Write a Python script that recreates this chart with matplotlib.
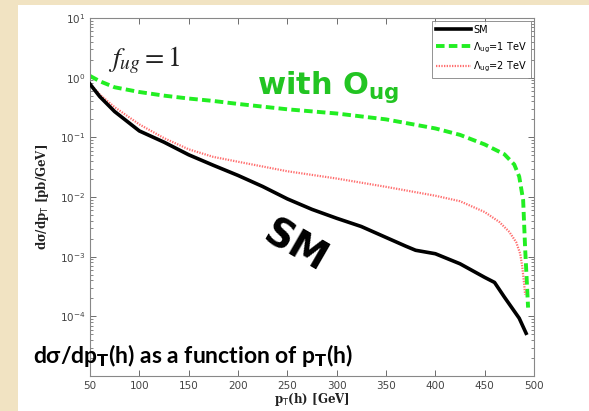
import numpy as np
import matplotlib
matplotlib.use("Agg")
import matplotlib.pyplot as plt
from matplotlib.patches import Rectangle
from matplotlib.ticker import LogLocator, NullFormatter

# ---- data ----
sm_pt = [50, 60, 75, 100, 125, 150, 175, 200, 225, 250, 275, 300, 325, 350,
         370, 380, 400, 425, 450, 460, 470, 485, 492]
sm_val = [0.78, 0.48, 0.27, 0.128, 0.083, 0.051, 0.034, 0.023, 0.015, 0.0093,
          0.0062, 0.0044, 0.0032, 0.0021, 0.0015, 0.00128, 0.00112, 0.00076,
          0.00045, 0.00037, 0.00021, 9.3e-5, 5.2e-5]

g_pt = [50, 60, 75, 100, 125, 150, 175, 200, 250, 300, 350, 400, 425, 450,
        470, 480, 485, 489, 491, 494]
g_val = [1.07, 0.87, 0.69, 0.575, 0.50, 0.447, 0.407, 0.363, 0.295, 0.251,
         0.20, 0.141, 0.11, 0.076, 0.052, 0.035, 0.022, 0.0089, 0.0014,
         0.00014]

r_pt = [50, 60, 75, 100, 125, 150, 175, 200, 250, 300, 350, 400, 425, 450,
        465, 475, 482, 486, 488, 490, 491]
r_val = [0.79, 0.52, 0.32, 0.165, 0.097, 0.063, 0.047, 0.039, 0.027, 0.0204,
         0.0148, 0.0105, 0.0085, 0.0056, 0.0038, 0.0026, 0.00174, 0.00112,
         0.0007, 0.00035, 0.00023]

x_ticks = [50, 100, 150, 200, 250, 300, 350, 400, 450, 500]
y_ticks = [1e-4, 1e-3, 1e-2, 1e-1, 1e0, 1e1]
y_tick_labels = [r"$10^{-4}$", r"$10^{-3}$", r"$10^{-2}$", r"$10^{-1}$",
                 r"$10^{0}$", r"$10^{1}$"]
legend_labels = ["SM", r"$\Lambda_{\rm ug}$=1 TeV", r"$\Lambda_{\rm ug}$=2 TeV"]

W, H = 589, 411
fig = plt.figure(figsize=(W / 100, H / 100), dpi=100)
fig.patch.set_facecolor("#f1e3c2")
fig.patches.append(Rectangle((18 / W, 0), 1, (H - 5) / H, transform=fig.transFigure,
                             facecolor="white", edgecolor="none", zorder=-5))

ax = fig.add_axes([90 / W, 1 - 376 / H, (534 - 90) / W, (376 - 18) / H])
ax.set_zorder(2)
ax.set_facecolor("white")

ax.semilogy(sm_pt, sm_val, color="black", lw=2.6, label=legend_labels[0], zorder=3)
ax.semilogy(g_pt, g_val, color="#22ee22", lw=2.8, ls=(0, (2.2, 1.1)),
            label=legend_labels[1], zorder=2)
ax.semilogy(r_pt, r_val, color="#ff6f6f", lw=1.6, ls=(0, (0.6, 0.6)),
            label=legend_labels[2], zorder=2)

ax.set_xlim(50, 500)
ax.set_ylim(1e-5, 10)
ax.set_xticks(x_ticks)
ax.set_yticks(y_ticks)
ax.set_yticklabels(y_tick_labels)
ax.yaxis.set_minor_locator(LogLocator(base=10, subs=np.arange(2, 10), numticks=20))
ax.yaxis.set_minor_formatter(NullFormatter())
ax.tick_params(which="both", direction="in", top=True, right=True,
               colors="#555555", labelcolor="#444444", labelsize=7.5)
ax.tick_params(which="major", length=4, width=0.6)
ax.tick_params(which="minor", length=2, width=0.5)
for s in ax.spines.values():
    s.set_color("#888888")
    s.set_linewidth(0.8)

ax.set_xlabel(r"p$_{\rm T}$(h) [GeV]", family="DejaVu Serif", fontweight="bold",
              fontsize=8.5, color="#222222", labelpad=0)
ax.set_ylabel("dσ/dp$_{\\rm T}$ [pb/GeV]", family="DejaVu Serif",
              fontweight="bold", fontsize=8.5, color="#222222", labelpad=6)

leg = ax.legend(loc="upper right", fontsize=7, frameon=True, fancybox=False,
                edgecolor="#777777", borderpad=0.4, handlelength=3.6,
                handletextpad=0.3, labelspacing=0.55, borderaxespad=0.3)
leg.get_frame().set_linewidth(0.7)

ax.text(0.04, 0.865, r"$f_{ug} = 1$", transform=ax.transAxes, fontsize=20,
        math_fontfamily="stix", color="#222222")
ax.text(0.376, 0.787, r"with O$_{\mathbf{ug}}$", transform=ax.transAxes,
        fontsize=22, fontweight="bold", color="#22c422", math_fontfamily="dejavusans")
ax.text(0.462, 0.36, "SM", transform=ax.transAxes, fontsize=28, fontweight="bold",
        rotation=-30, color="black", ha="center", va="center")
fig.text(33 / W, 1 - 363 / H, "dσ/dp$_{\\mathbf{T}}$(h) as a function of p$_{\\mathbf{T}}$(h)",
         fontsize=16.5, fontweight="bold", color="black", family=["Lato", "DejaVu Sans"],
         math_fontfamily="dejavusans", zorder=10)

fig.savefig("out.png", dpi=100, facecolor=fig.get_facecolor())
